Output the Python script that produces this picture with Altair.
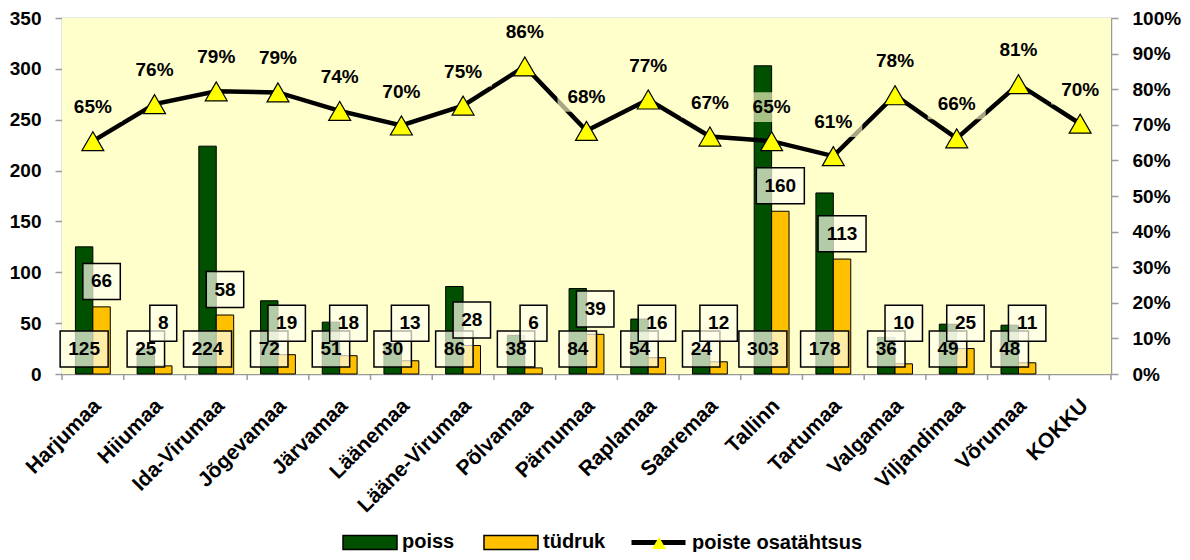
import altair as alt
import pandas as pd

# ---------------- data ----------------
categories = ["Harjumaa", "Hiiumaa", "Ida-Virumaa", "Jõgevamaa", "Järvamaa", "Läänemaa",
              "Lääne-Virumaa", "Põlvamaa", "Pärnumaa", "Raplamaa", "Saaremaa", "Tallinn",
              "Tartumaa", "Valgamaa", "Viljandimaa", "Võrumaa", "KOKKU"]
poiss = [125, 25, 224, 72, 51, 30, 86, 38, 84, 54, 24, 303, 178, 36, 49, 48, None]
tudruk = [66, 8, 58, 19, 18, 13, 28, 6, 39, 16, 12, 160, 113, 10, 25, 11, None]
share = [0.654, 0.758, 0.794, 0.791, 0.739, 0.698, 0.754, 0.864, 0.683, 0.771, 0.667,
         0.654, 0.612, 0.783, 0.662, 0.814, 0.703]
bar_series = ["poiss", "tüdruk"]
bar_colors = ["#005000", "#FFC000"]
line_name = "poiste osatähtsus"
left_ticks = [0, 50, 100, 150, 200, 250, 300, 350]
right_ticks = [0, 0.1, 0.2, 0.3, 0.4, 0.5, 0.6, 0.7, 0.8, 0.9, 1.0]

# ---------------- tables ----------------
rows = []
for c, p, t in zip(categories, poiss, tudruk):
    if p is not None:
        rows.append({"category": c, "series": "poiss", "value": p})
    if t is not None:
        rows.append({"category": c, "series": "tüdruk", "value": t})
bar_df = pd.DataFrame(rows)
share_df = pd.DataFrame({"category": categories, "share": share})

# ---------------- styling ----------------
FONT = "Liberation Sans"
FS = 19
W, H = 1049, 356
GRID = "#9a9a9a"

RECT = "M-1,-0.26H1V0.26H-1Z"
P1 = "M-0.56,-0.75H0.56V0.75H-0.56Z"
P2 = "M-0.78,-0.75H0.78V0.75H-0.78Z"
P3 = "M-1,-0.75H1V0.75H-1Z"
BG = "M-1,-1.69H1V-0.66H-1Z"

x_scale = alt.Scale(domain=categories, paddingInner=0, paddingOuter=0)
xo_scale = alt.Scale(domain=bar_series, paddingInner=0, paddingOuter=0.77)
y_scale = alt.Scale(domain=[0, 350], nice=False)
p_scale = alt.Scale(domain=[0, 1], nice=False)

left_axis = alt.Axis(orient="left", values=left_ticks, title=None, labelFont=FONT,
                     labelFontSize=FS, labelFontWeight="bold", labelColor="black",
                     labelPadding=14, tickSize=7, tickColor=GRID, tickWidth=1.5,
                     domainColor=GRID, domainWidth=1.5, grid=True, gridColor=GRID,
                     gridWidth=1.5)
right_axis = alt.Axis(orient="right", values=right_ticks, format=".0%", title=None,
                      labelFont=FONT, labelFontSize=FS, labelFontWeight="bold",
                      labelColor="black", labelPadding=14, tickSize=7, tickColor=GRID,
                      tickWidth=1.5, domainColor=GRID, domainWidth=1.5, grid=False)

LFS = 20
LEG_Y = 496
legend_bars = alt.Legend(orient="none", legendX=280, legendY=LEG_Y, direction="horizontal",
                         columns=2, title=None, symbolType=RECT, symbolSize=2916,
                         symbolStrokeWidth=1.5, symbolStrokeColor="black", symbolOpacity=1,
                         labelFont=FONT, labelFontSize=LFS, labelFontWeight="bold",
                         labelColor="black", labelOffset=4, columnPadding=26, padding=0,
                         labelLimit=400)
legend_line = alt.Legend(orient="none", legendX=567, legendY=LEG_Y - 1, title=None,
                         symbolType="stroke", symbolSize=2916, symbolStrokeWidth=5,
                         symbolStrokeColor="black", labelFont=FONT, labelFontSize=LFS,
                         labelFontWeight="bold", labelColor="black", labelOffset=4,
                         padding=0, labelLimit=400)
legend_tri = alt.Legend(orient="none", legendX=589, legendY=LEG_Y + 21, title=None,
                        symbolSize=200, symbolFillColor="#FFFF00", symbolStrokeColor="black",
                        symbolStrokeWidth=1, labelOpacity=0, labelFont=FONT,
                        labelFontSize=1, labelOffset=0, padding=0)

X = alt.X("category:N", scale=x_scale, axis=None)
XO = alt.XOffset("series:N", scale=xo_scale)

# plot background
bg = alt.Chart(share_df).mark_rect(fill="#FFFFCC", strokeWidth=0).encode(
    x=alt.value(0), x2=alt.value(W), y=alt.value(0), y2=alt.value(H))

# category boundary ticks below the axis
tick_rules = alt.Chart(share_df).mark_rule(color=GRID, strokeWidth=1.5).encode(
    x=alt.X("category:N", scale=x_scale, axis=None, bandPosition=0),
    y=alt.value(H), y2=alt.value(H + 6))
end_rule = alt.Chart(share_df).transform_filter(
    "datum.category == '%s'" % categories[-1]).mark_rule(color=GRID, strokeWidth=1.5).encode(
    x=alt.X("category:N", scale=x_scale, axis=None, bandPosition=1),
    y=alt.value(H), y2=alt.value(H + 6))

# rotated category labels
cat_labels = alt.Chart(share_df).mark_text(
    angle=315, align="right", baseline="middle", dx=7, font=FONT, fontSize=21,
    fontWeight="bold", color="black").encode(
    x=X, y=alt.value(H + 34), text="category:N")

# ---------------- count layers ----------------
bars = alt.Chart(bar_df).mark_bar(stroke="black", strokeWidth=1, opacity=1).encode(
    x=X,
    xOffset=XO,
    y=alt.Y("value:Q", scale=y_scale, axis=left_axis),
    color=alt.Color("series:N", scale=alt.Scale(domain=bar_series, range=bar_colors),
                    legend=legend_bars),
)

lab_base = alt.Chart(bar_df).transform_calculate(
    ly="datum.series == 'poiss' ? 24.5 : max(datum.value + 25, 50)",
    box="length(toString(datum.value)) == 1 ? '%s' : (length(toString(datum.value)) == 2 ? '%s' : '%s')" % (P1, P2, P3),
)
boxes = lab_base.mark_point(filled=True, fill="#FFFFEE", fillOpacity=0.7, stroke="black",
                            strokeWidth=1.5, strokeOpacity=1, size=2304, opacity=1).encode(
    x=X, xOffset=XO,
    y=alt.Y("ly:Q", scale=y_scale, axis=None),
    shape=alt.Shape("box:N", scale=None, legend=None),
)
box_text = lab_base.mark_text(font=FONT, fontSize=FS, fontWeight="bold", color="black",
                              baseline="middle", align="center").encode(
    x=X, xOffset=XO,
    y=alt.Y("ly:Q", scale=y_scale, axis=None),
    text=alt.Text("value:Q"),
)

# ---------------- share layers ----------------
share_base = alt.Chart(share_df).transform_calculate(name="'%s'" % line_name, mk="'marker'")
line = share_base.mark_line(strokeWidth=4.5).encode(
    x=X,
    y=alt.Y("share:Q", scale=p_scale, axis=right_axis),
    stroke=alt.Stroke("name:N", scale=alt.Scale(domain=[line_name], range=["black"]),
                      legend=legend_line),
)
pct_bg = share_base.mark_point(shape=BG, size=3364, filled=True, fill="#FFFFCC",
                               fillOpacity=0.65, strokeWidth=0, opacity=1).encode(
    x=X, y=alt.Y("share:Q", scale=p_scale, axis=None))
tri = share_base.mark_point(filled=True, fill="#FFFF00", stroke="black", strokeWidth=1.2,
                            size=480, opacity=1).encode(
    x=X, y=alt.Y("share:Q", scale=p_scale, axis=None),
    shape=alt.Shape("mk:N", scale=alt.Scale(domain=["marker"], range=["triangle-up"]),
                    legend=legend_tri),
)
pct_text = share_base.mark_text(dy=-34, font=FONT, fontSize=FS, fontWeight="bold",
                                color="black", baseline="middle", align="center").encode(
    x=X, y=alt.Y("share:Q", scale=p_scale, axis=None),
    text=alt.Text("share:Q", format=".0%"),
)

chart = alt.layer(bg, tick_rules, end_rule, cat_labels, bars, boxes, box_text, line, pct_bg,
                  tri, pct_text).resolve_scale(
    y="independent", shape="independent"
).properties(
    width=W, height=H,
    padding={"left": 54, "top": 10, "right": 70, "bottom": 178},
    autosize=alt.AutoSizeParams(type="none"),
    background="white",
).configure_view(strokeWidth=0)

chart.save("out.html", embed_options={"renderer": "svg", "actions": False})
